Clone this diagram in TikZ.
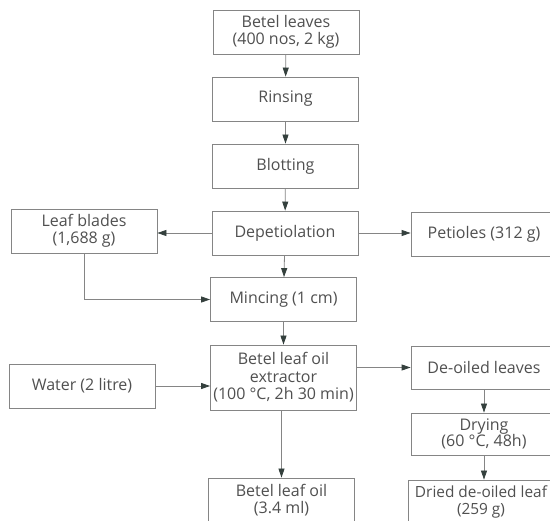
\documentclass[tikz,border=0pt]{standalone}
\usepackage{fontspec}
\setmainfont{Open Sans}
\usetikzlibrary{arrows.meta}
\definecolor{boxline}{HTML}{858585}
\definecolor{tiptone}{HTML}{34403D}
\definecolor{textgray}{HTML}{505050}
\begin{document}
\begin{tikzpicture}[x=1pt, y=-1pt,
        every node/.style={draw=boxline, rectangle, align=center, minimum width=146pt, minimum height=44pt, inner sep=1pt, text=textgray, font=\fontsize{16}{17.5}\selectfont, line width=0.8pt},
        >={Triangle[length=9pt, width=6pt, color=tiptone]}]
        \useasboundingbox (0,0) rectangle (550,521);
        \clip (0,0) rectangle (550,521);
        \fill[white] (0,0) rectangle (550,521);
        \node (leaves) at (286, 32) {Betel leaves\\(400 nos, 2 kg)};
        \node (rinse) at (285.5, 99) {Rinsing};
        \node (blot) at (285.5, 166) {Blotting};
        \node (depet) at (285, 233) {Depetiolation};
        \node (blades) at (84, 231) {Leaf blades\\(1,688 g)};
        \node (petioles) at (484, 234) {Petioles (312 g)};
        \node (mince) at (283.5, 299.5) {Mincing (1 cm)};
        \node[minimum height=65pt] (extract) at (283.5, 377.5) {Betel leaf oil\\extractor\\(100 °C, 2h 30 min)};
        \node (water) at (82, 386) {Water (2 litre)};
        \node[minimum height=43pt] (deoiled) at (484, 367.5) {De-oiled leaves};
        \node[minimum height=42pt, font=\fontsize{16}{16}\selectfont] (drying) at (484, 434) {Drying\\(60 °C, 48h)};
        \node[font=\fontsize{15.4}{17.5}\selectfont] (dried) at (481, 502) {Dried de-oiled leaf\\(259 g)};
        \node (oil) at (281.5, 500) {Betel leaf oil\\(3.4 ml)};
        \draw[->, boxline, line width=0.8pt] (leaves) -- (rinse);
        \draw[->, boxline, line width=0.8pt] (rinse) -- (blot);
        \draw[->, boxline, line width=0.8pt] (blot) -- (depet);
        \draw[->, boxline, line width=0.8pt] (depet.west) -- (depet.west -| blades.east);
        \draw[->, boxline, line width=0.8pt] (depet.east) -- (depet.east -| petioles.west);
        \draw[->, boxline, line width=0.8pt] (depet) -- (mince);
        \draw[->, boxline, line width=0.8pt] (blades.south) |- (mince.west);
        \draw[->, boxline, line width=0.8pt] (mince) -- (extract);
        \draw[->, boxline, line width=0.8pt] (water.east) -- (water.east -| extract.west);
        \draw[->, boxline, line width=0.8pt] (extract.east |- deoiled.west) -- (deoiled.west);
        \draw[->, boxline, line width=0.8pt] (oil.north |- extract.south) -- (oil.north);
        \draw[->, boxline, line width=0.8pt] (deoiled) -- (drying);
        \draw[->, boxline, line width=0.8pt] (drying.south) -- (drying.south |- dried.north);
    \end{tikzpicture}
\end{document}
